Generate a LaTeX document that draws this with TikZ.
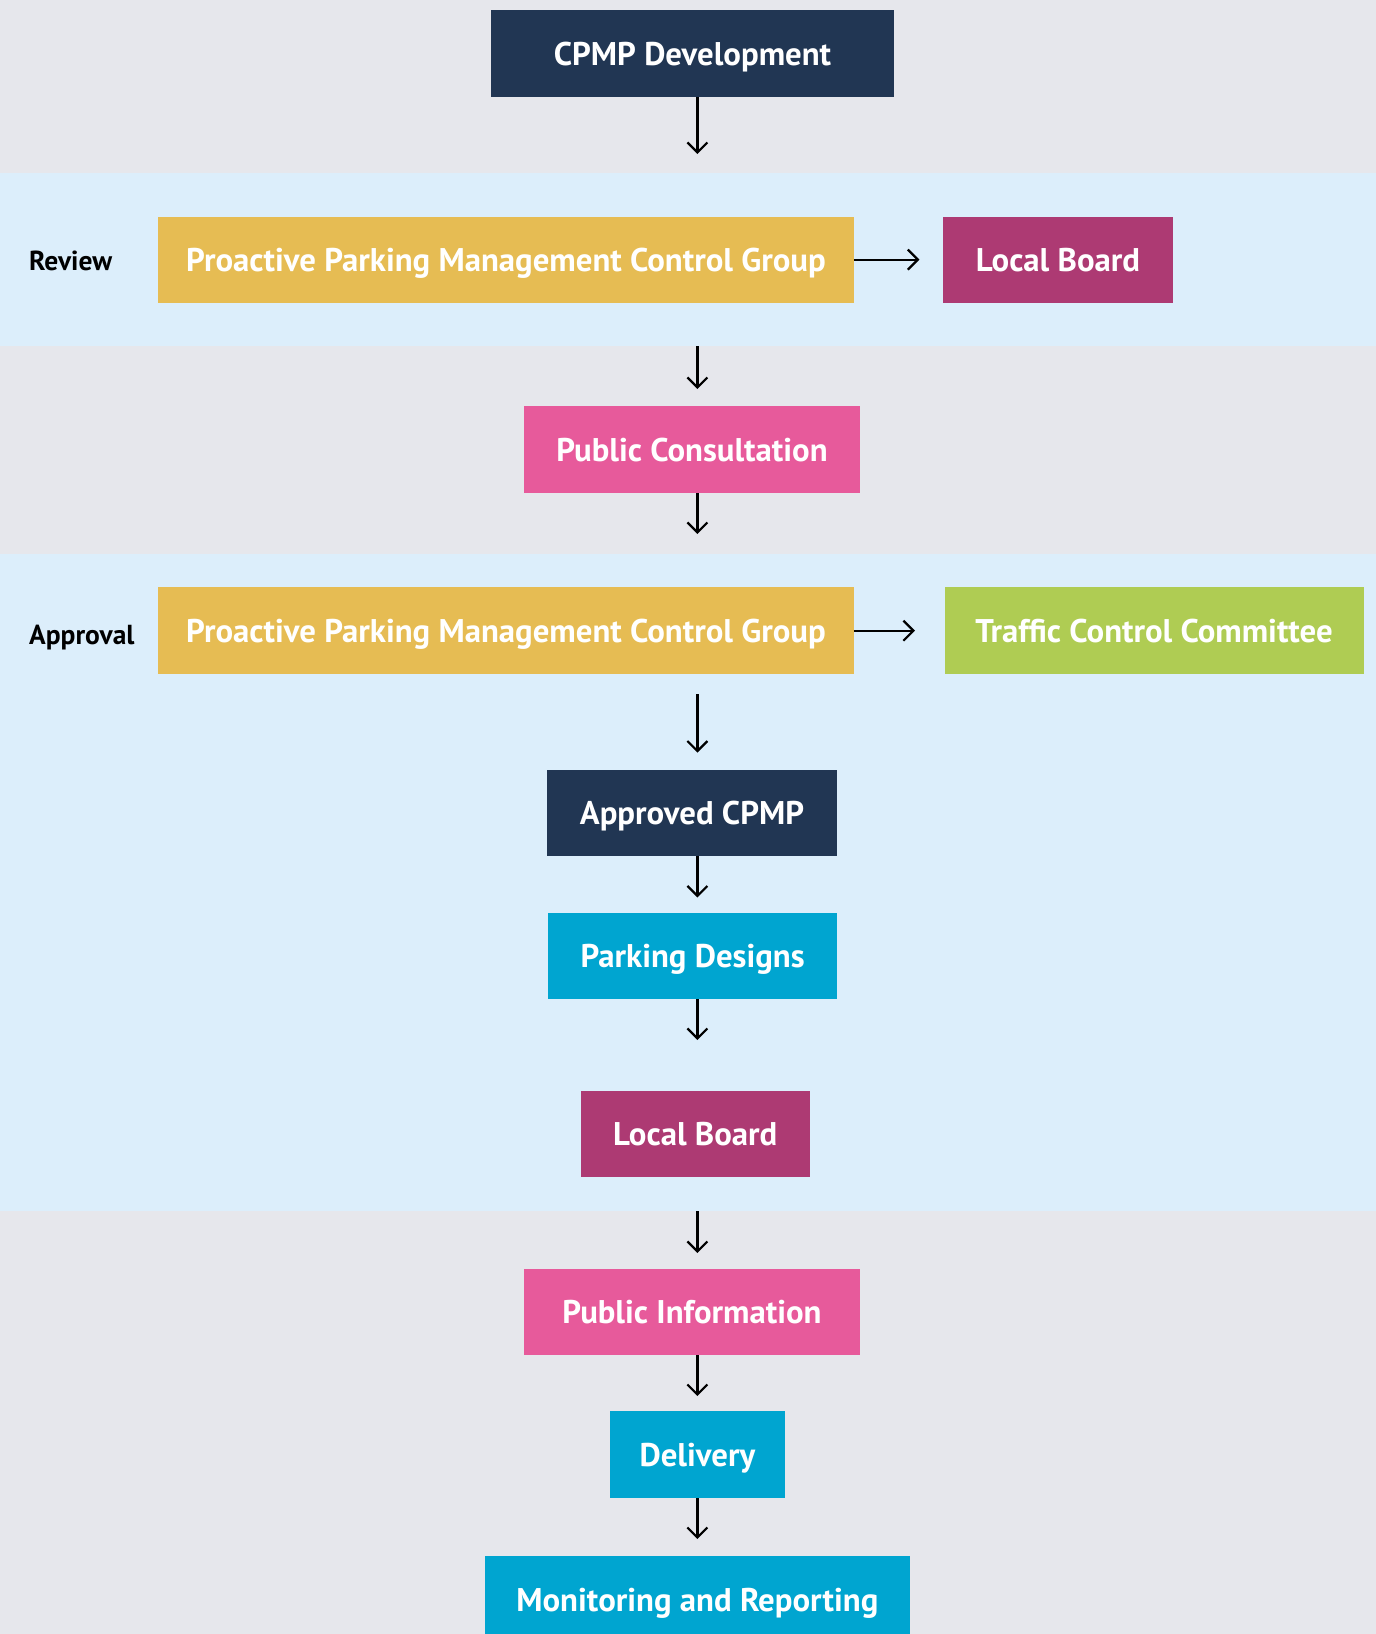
\documentclass[tikz,border=0pt]{standalone}
\usepackage{fontspec}
\setmainfont{PT Sans}
\usetikzlibrary{arrows.meta}
\definecolor{bggray}{HTML}{E6E7EC}
\definecolor{bgblue}{HTML}{DCEEFB}
\definecolor{navy}{HTML}{213653}
\definecolor{ochre}{HTML}{E6BC53}
\definecolor{plum}{HTML}{AD3A73}
\definecolor{rose}{HTML}{E75A9B}
\definecolor{lime}{HTML}{AFCC53}
\definecolor{cyanbox}{HTML}{00A5D0}
\tikzset{
  box/.style={rectangle, inner sep=0pt, minimum height=86.5pt, text=white,
    text height=23pt, text depth=0pt,
    font=\fontsize{32.8}{36}\selectfont\bfseries},
  lbl/.style={inner sep=0pt, text=black, text height=19pt, text depth=0pt,
    font=\fontsize{27.5}{30}\selectfont\bfseries},
  flow/.style={line width=2.2pt, -{Straight Barb[length=10pt,width=20pt,line width=2.2pt]}}
}
\begin{document}
\begin{tikzpicture}[x=1pt,y=-1pt]
\useasboundingbox (0,0) rectangle (1376,1634);
\clip (0,0) rectangle (1376,1634);
% bands
\fill[bggray] (0,0) rectangle (1376,173);
\fill[bgblue] (0,173) rectangle (1376,346);
\fill[bggray] (0,346) rectangle (1376,553.5);
\fill[bgblue] (0,553.5) rectangle (1376,1211);
\fill[bggray] (0,1211) rectangle (1376,1634);
% nodes
\node[box, fill=navy, minimum width=403pt] (cpmp) at (692.5,53.7) {CPMP Development};
\node[box, fill=ochre, minimum width=695.3pt] (rev) at (506,260) {Proactive Parking Management Control Group};
\node[box, fill=plum, minimum width=229.3pt] (lb1) at (1058,260) {Local Board};
\node[box, fill=rose, minimum width=335.7pt] (pc) at (692,449.7) {Public Consultation};
\node[box, fill=ochre, minimum width=695.3pt, minimum height=87.5pt] (app) at (506,630.6) {Proactive Parking Management Control Group};
\node[box, fill=lime, minimum width=419pt, minimum height=87.5pt] (tcc) at (1154,630.6) {Traffic Control Committee};
\node[box, fill=navy, minimum width=289.7pt] (acpmp) at (692,813) {Approved CPMP};
\node[box, fill=cyanbox, minimum width=288.7pt] (pd) at (692.6,956) {Parking Designs};
\node[box, fill=plum, minimum width=229.3pt] (lb2) at (695.3,1134) {Local Board};
\node[box, fill=rose, minimum width=335.7pt] (pi) at (692,1312) {Public Information};
\node[box, fill=cyanbox, minimum width=175pt] (del) at (697.4,1454.7) {Delivery};
\node[box, fill=cyanbox, minimum width=425pt] (mon) at (697.4,1599.6) {Monitoring and Reporting};
\node[lbl, anchor=west] (lrev) at (29,260.6) {Review};
\node[lbl, anchor=west] (lapp) at (29,634.8) {Approval};
% arrow coordinates
\coordinate (e1) at (697.4,154);
\coordinate (s2) at (697.4,346);
\coordinate (e2) at (697.4,389);
\coordinate (e3) at (697.4,534);
\coordinate (s4) at (697.4,694);
\coordinate (e4) at (697.4,752.6);
\coordinate (e5) at (697.4,897.5);
\coordinate (e6) at (697.4,1040);
\coordinate (s7) at (697.4,1211);
\coordinate (e7) at (697.4,1253);
\coordinate (e8) at (697.4,1396);
\coordinate (e9) at (697.4,1539);
\coordinate (h1) at (919.4,259.6);
\coordinate (h2) at (915,630.7);
% connectors
\draw[flow] (cpmp.south -| e1) -- (e1);
\draw[flow] (s2) -- (e2);
\draw[flow] (pc.south -| e3) -- (e3);
\draw[flow] (s4) -- (e4);
\draw[flow] (acpmp.south -| e5) -- (e5);
\draw[flow] (pd.south -| e6) -- (e6);
\draw[flow] (s7) -- (e7);
\draw[flow] (pi.south -| e8) -- (e8);
\draw[flow] (del.south) -- (e9);
\draw[flow] (rev.east |- h1) -- (h1);
\draw[flow] (app.east |- h2) -- (h2);
\end{tikzpicture}
\end{document}
